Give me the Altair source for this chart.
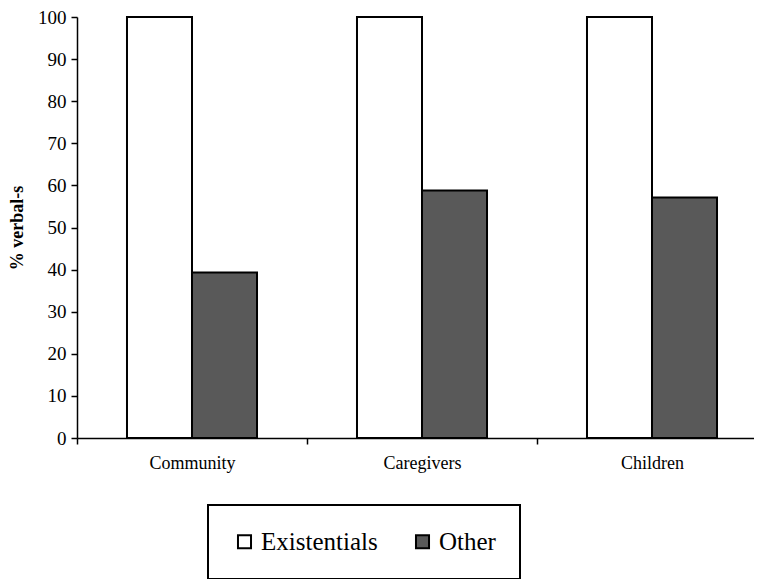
import altair as alt
import pandas as pd

groups = ["Community", "Caregivers", "Children"]
series = ["Existentials", "Other"]
existentials = [100, 100, 100]
other = [39.3, 58.8, 57.1]
y_ticks = [0, 10, 20, 30, 40, 50, 60, 70, 80, 90, 100]

rows = []
for g, e, o in zip(groups, existentials, other):
    rows.append({"group": g, "series": "Existentials", "value": e})
    rows.append({"group": g, "series": "Other", "value": o})
df = pd.DataFrame(rows)

FONT = "Liberation Serif"

chart = alt.Chart(df).mark_bar(stroke="black", strokeWidth=2).encode(
    x=alt.X("group:N", sort=groups, title=None,
            scale=alt.Scale(paddingInner=0, paddingOuter=0, range=[0, 690]),
            axis=alt.Axis(labelAngle=0, tickBand="extent", tickSize=6,
                          labelPadding=10, labelFontSize=18, labelFont=FONT,
                          labelColor="black", domainColor="black", tickColor="black",
                          domainWidth=1.5, tickWidth=1.5, grid=False)),
    xOffset=alt.XOffset("series:N", sort=series,
                        scale=alt.Scale(paddingInner=0, paddingOuter=0.769)),
    y=alt.Y("value:Q", title="% verbal-s",
            scale=alt.Scale(domain=[0, 100], nice=False),
            axis=alt.Axis(values=y_ticks, tickSize=6, labelPadding=5,
                          labelFontSize=19, labelFont=FONT, labelColor="black",
                          titleFont=FONT, titleFontSize=18, titleFontWeight="bold",
                          titleColor="black", titlePadding=11,
                          domainColor="black", tickColor="black",
                          domainWidth=1.5, tickWidth=1.5, grid=False)),
    color=alt.Color("series:N", sort=series,
                    scale=alt.Scale(domain=series, range=["#ffffff", "#595959"]),
                    legend=alt.Legend(title=None, orient="none", legendX=131, legendY=488,
                                      direction="horizontal", columns=2,
                                      symbolType="square", symbolSize=170,
                                      symbolStrokeColor="black", symbolStrokeWidth=2,
                                      labelFont=FONT, labelFontSize=25, labelColor="black",
                                      labelOffset=4, columnPadding=32, padding=24,
                                      strokeColor="black", fillColor="white",
                                      labelLimit=300)),
).properties(
    width=677, height=421,
    autosize=alt.AutoSizeParams(type="none"),
    padding={"left": 69, "top": 9, "right": 0, "bottom": 141},
).configure_view(strokeWidth=0).configure_legend(strokeWidth=2)

chart.save("out.html", embed_options={"renderer": "svg", "actions": False})
